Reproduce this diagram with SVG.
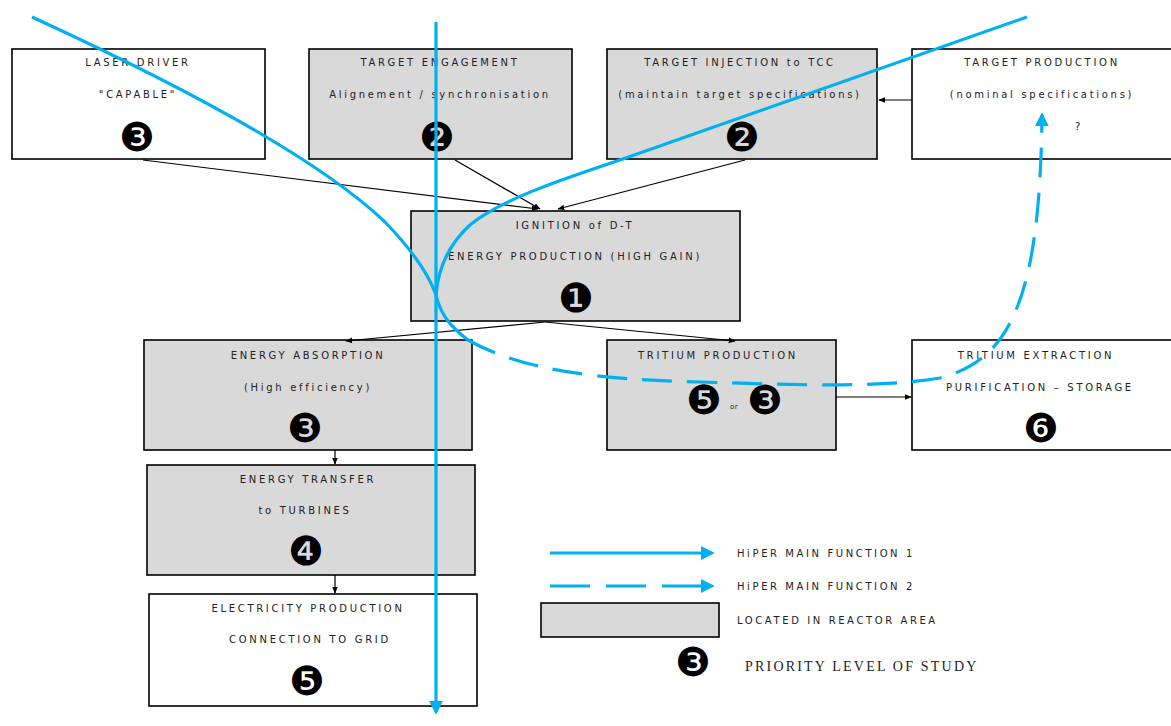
<svg xmlns="http://www.w3.org/2000/svg" width="1171" height="726" viewBox="0 0 1171 726">
<defs>
<marker id="ah" viewBox="0 0 10 10" refX="9" refY="5" markerWidth="7" markerHeight="7" markerUnits="userSpaceOnUse" orient="auto"><path d="M0,1 L10,5 L0,9 z" fill="#000"/></marker>
<marker id="bh" viewBox="0 0 10 10" refX="8" refY="5" markerWidth="14" markerHeight="14" markerUnits="userSpaceOnUse" orient="auto"><path d="M0,0 L10,5 L0,10 z" fill="#00b0f0"/></marker>
<style>
.box{stroke:#000;stroke-width:1.6}
.g{fill:#d9d9d9}
.w{fill:#fff}
.t{font-family:"DejaVu Sans",sans-serif;font-size:10px;letter-spacing:2.7px;fill:#222;text-anchor:middle}
.n{font-family:"DejaVu Sans",sans-serif;font-size:40px;fill:#000;text-anchor:middle}
.c{stroke:#000;stroke-width:1.2;fill:none;marker-end:url(#ah)}
.b{stroke:#00b0f0;stroke-width:3.2;fill:none}
.d{stroke-dasharray:30 15}
.lt{font-family:"DejaVu Sans",sans-serif;font-size:10px;letter-spacing:2.6px;fill:#222}
</style>
</defs>
<rect width="1171" height="726" fill="#fff"/>

<g id="laser-driver"><rect class="box w" x="12" y="49" width="253" height="110"/><text class="t" x="138" y="66">LASER  DRIVER</text><text class="t" x="138" y="98">"CAPABLE"</text><text class="n" x="137" y="151">❸</text></g>
<g id="target-engagement"><rect class="box g" x="309" y="49" width="263" height="110"/><text class="t" x="440" y="66">TARGET  ENGAGEMENT</text><text class="t" x="440" y="98">Alignement / synchronisation</text><text class="n" x="437" y="151">❷</text></g>
<g id="target-injection"><rect class="box g" x="607" y="49" width="270" height="110"/><text class="t" x="740" y="66">TARGET  INJECTION  to TCC</text><text class="t" x="740" y="98">(maintain target  specifications)</text><text class="n" x="742" y="151">❷</text></g>
<g id="target-production"><rect class="box w" x="912" y="49" width="262" height="110"/><text class="t" x="1042" y="66">TARGET  PRODUCTION</text><text class="t" x="1042" y="98">(nominal specifications)</text><text class="t" x="1079" y="130">?</text></g>
<g id="ignition"><rect class="box g" x="411" y="211" width="329" height="110"/><text class="t" x="575" y="229">IGNITION of D-T</text><text class="t" x="575" y="260">ENERGY  PRODUCTION (HIGH  GAIN)</text><text class="n" x="576" y="312">❶</text></g>
<g id="energy-absorption"><rect class="box g" x="144" y="340" width="328" height="110"/><text class="t" x="308" y="359">ENERGY  ABSORPTION</text><text class="t" x="308" y="391">(High efficiency)</text><text class="n" x="305" y="442">❸</text></g>
<g id="tritium-production"><rect class="box g" x="607" y="340" width="229" height="110"/><text class="t" x="718" y="359">TRITIUM  PRODUCTION</text><text class="n" x="704" y="414">❺</text><text class="t" x="734" y="409" style="font-size:7px;letter-spacing:0.5px">or</text><text class="n" x="765" y="414">❸</text></g>
<g id="tritium-extraction"><rect class="box w" x="912" y="340" width="262" height="110"/><text class="t" x="1036" y="359">TRITIUM  EXTRACTION</text><text class="t" x="1040" y="391">PURIFICATION  –  STORAGE</text><text class="n" x="1041" y="442">❻</text></g>
<g id="energy-transfer"><rect class="box g" x="147" y="465" width="328" height="110"/><text class="t" x="308" y="483">ENERGY  TRANSFER</text><text class="t" x="305" y="514">to TURBINES</text><text class="n" x="306" y="565">❹</text></g>
<g id="electricity-production"><rect class="box w" x="149" y="594" width="328" height="112"/><text class="t" x="308" y="612">ELECTRICITY  PRODUCTION</text><text class="t" x="310" y="643">CONNECTION TO GRID</text><text class="n" x="307" y="695">❺</text></g>

<g id="connectors">
<line class="c" x1="143" y1="160" x2="538" y2="209"/>
<line class="c" x1="455" y1="160" x2="540" y2="209"/>
<line class="c" x1="745" y1="160" x2="558" y2="209"/>
<line class="c" x1="912" y1="100" x2="879" y2="100"/>
<line class="c" x1="545" y1="322" x2="346" y2="341"/>
<line class="c" x1="545" y1="322" x2="735" y2="341"/>
<line class="c" x1="335" y1="450" x2="335" y2="464"/>
<line class="c" x1="335" y1="575" x2="335" y2="593"/>
<line class="c" x1="836" y1="397" x2="911" y2="397"/>
</g>

<g id="main-functions">
<path class="b" d="M436,22 L436,712" marker-end="url(#bh)"/>
<path class="b" d="M32,17 C180,85 320,160 385,222 C410,248 428,272 436,295"/>
<path class="b" d="M1027,17 L620,160 C560,180 500,200 470,225 C448,245 438,270 436,295"/>
<path class="b" d="M436,295 C440,312 448,325 468,340"/>
<path class="b d" d="M468,340 C520,370 600,380 700,382 C800,385 880,388 940,378 C1010,360 1040,300 1042,115" marker-end="url(#bh)"/>
</g>

<g id="legend">
<line class="b" x1="550" y1="553" x2="712" y2="553" marker-end="url(#bh)"/>
<line class="b d" x1="550" y1="586" x2="712" y2="586" style="stroke-dasharray:40 16" marker-end="url(#bh)"/>
<rect class="box g" x="541" y="603" width="178" height="34"/>
<text class="n" x="693" y="676">❸</text>
<text class="lt" x="737" y="557">HiPER MAIN FUNCTION 1</text>
<text class="lt" x="737" y="590">HiPER MAIN FUNCTION 2</text>
<text class="lt" x="737" y="624">LOCATED IN REACTOR AREA</text>
<text x="745" y="671" style="font-family:'Liberation Serif',serif;font-size:14px;letter-spacing:2.2px;fill:#222">PRIORITY LEVEL OF STUDY</text>
</g>
</svg>
